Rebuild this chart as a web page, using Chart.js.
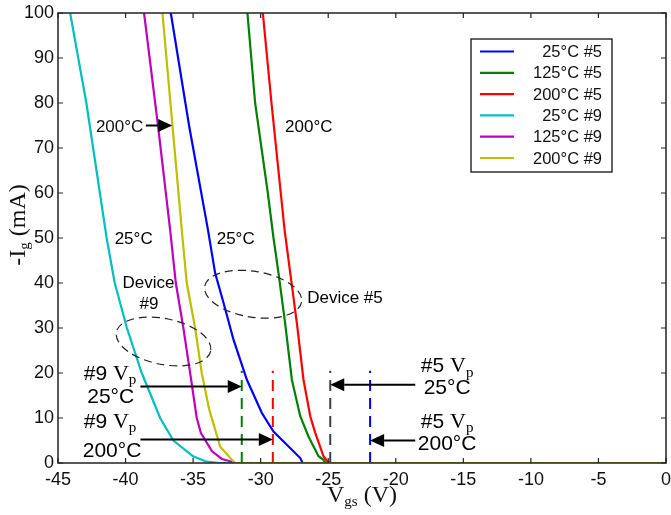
<!DOCTYPE html>
<html>
<head>
<meta charset="utf-8">
<script src="https://cdn.jsdelivr.net/npm/chart.js@4.4.1/dist/chart.umd.min.js"></script>
<style>
  html, body { margin: 0; padding: 0; background: #fff; }
  #wrap { width: 671px; height: 515px; }
</style>
</head>
<body>
<div id="wrap"><canvas id="chart" width="671" height="515"></canvas></div>
<script>
// series names as in the legend
const seriesLabels = ['25°C #5', '125°C #5', '200°C #5', '25°C #9', '125°C #9', '200°C #9'];
const seriesColors = ['#0000ff', '#008000', '#ff0000', '#00bfbf', '#bf00bf', '#bfbf00'];

// Vgs (V) / -Ig (mA)
const vgs25n5  = [-36.65, -35.3, -33.9, -33.37, -32.75, -32.01, -31.02, -29.91, -29.05, -27.07, -26.9, 0];
const ig25n5   = [100, 75, 51.8, 42.2, 35.6, 27.4, 18.5, 11.1, 7.0, 1.1, 0, 0];
const vgs125n5 = [-30.98, -30.41, -29.47, -29.05, -28.68, -28.19, -27.69, -27.07, -26.46, -25.72, -25.35, -25.2, 0];
const ig125n5  = [100, 80, 60, 50, 42.2, 31.1, 18.5, 10.4, 5.9, 1.5, 0.7, 0, 0];
const vgs200n5 = [-29.84, -29.2, -28.23, -27.81, -27.32, -26.83, -26.33, -25.96, -25.35, -25.1, -24.9, 0];
const ig200n5  = [100, 80, 51.8, 42.2, 31.1, 18.5, 10.4, 6.7, 1.5, 0.5, 0, 0];
const vgs25n9  = [-44.1, -42.9, -41.4, -40.8, -39.9, -38.8, -37.44, -36.46, -35.0, -34.0, -33.0, 0];
const ig25n9   = [100, 80, 50, 40, 30, 20, 10, 5, 1.5, 0.3, 0, 0];
const vgs125n9 = [-38.63, -37.6, -36.7, -36.28, -35.72, -35.22, -34.73, -34.43, -33.6, -32.87, -32.26, -32.0, 0];
const ig125n9  = [100, 75, 51.8, 40, 30, 20, 10, 6.7, 2.6, 0.9, 0.4, 0, 0];
const vgs200n9 = [-37.27, -35.84, -35.47, -34.85, -34.36, -33.8, -33.0, -32.13, -31.9, 0];
const ig200n9  = [100, 51.8, 40, 30, 20, 11.8, 3.7, 0.7, 0, 0];

const seriesV = [vgs25n5, vgs125n5, vgs200n5, vgs25n9, vgs125n9, vgs200n9];
const seriesI = [ig25n5, ig125n5, ig200n5, ig25n9, ig125n9, ig200n9];

// pinch-off voltage markers (#9 25°C, #9 200°C, #5 25°C, #5 200°C)
const vpVolts  = [-31.4, -29.1, -24.85, -21.9];
const vpColors = ['#008000', '#ff0000', '#404040', '#0000ff'];
const vpTop = 20.5;

// axis ticks
const xTicks = [-45, -40, -35, -30, -25, -20, -15, -10, -5, 0];
const yTicks = [0, 10, 20, 30, 40, 50, 60, 70, 80, 90, 100];

const SANS = '"Liberation Sans", Arial, sans-serif';
const SERIF = '"Liberation Serif", "Times New Roman", serif';

const datasets = seriesLabels.map((lbl, i) => ({
  label: lbl,
  data: seriesV[i].map((v, k) => ({ x: v, y: seriesI[i][k] })),
  borderColor: seriesColors[i],
  backgroundColor: seriesColors[i],
  borderWidth: 2.2,
  pointRadius: 0,
  showLine: true,
  tension: 0,
  order: 10 - i, // last one drawn on top
}));

vpVolts.forEach((v, i) => {
  datasets.push({
    label: 'vp' + i,
    data: [{ x: v, y: 0 }, { x: v, y: vpTop }],
    borderColor: vpColors[i],
    borderWidth: 2,
    borderDash: [11, 7],
    pointRadius: 0,
    showLine: true,
    order: 20,
  });
});

// text with optional subscript, pieces: [text, font, sub?]
function richText(ctx, pieces, x, y, align) {
  let w = 0;
  pieces.forEach(p => { ctx.font = p[1]; w += ctx.measureText(p[0]).width; });
  let cx = align === 'center' ? x - w / 2 : (align === 'right' ? x - w : x);
  ctx.textAlign = 'left';
  ctx.textBaseline = 'middle';
  pieces.forEach(p => {
    ctx.font = p[1];
    ctx.fillText(p[0], cx, p[2] ? y + 6 : y);
    cx += ctx.measureText(p[0]).width;
  });
}

function arrow(ctx, x1, y1, x2, y2) {
  const dir = Math.sign(x2 - x1);
  const head = 14;
  ctx.beginPath();
  ctx.moveTo(x1, y1);
  ctx.lineTo(x2 - dir * head, y2);
  ctx.lineWidth = 2;
  ctx.strokeStyle = '#000';
  ctx.stroke();
  ctx.beginPath();
  ctx.moveTo(x2, y2);
  ctx.lineTo(x2 - dir * head, y2 - 6.5);
  ctx.lineTo(x2 - dir * head, y2 + 6.5);
  ctx.closePath();
  ctx.fillStyle = '#000';
  ctx.fill();
}

const decorations = {
  id: 'decorations',
  afterDatasetsDraw(chart) {
    const ctx = chart.ctx;
    const xs = chart.scales.x, ys = chart.scales.y;
    const X = v => xs.getPixelForValue(v);
    const Y = v => ys.getPixelForValue(v);
    const a = chart.chartArea;
    ctx.save();

    // frame
    ctx.strokeStyle = '#222';
    ctx.lineWidth = 1.5;
    ctx.strokeRect(a.left, a.top, a.right - a.left, a.bottom - a.top);

    // inward ticks on all sides
    ctx.beginPath();
    xTicks.forEach(t => {
      const px = X(t);
      ctx.moveTo(px, a.bottom); ctx.lineTo(px, a.bottom - 5);
      ctx.moveTo(px, a.top); ctx.lineTo(px, a.top + 5);
    });
    yTicks.forEach(t => {
      const py = Y(t);
      ctx.moveTo(a.left, py); ctx.lineTo(a.left + 5, py);
      ctx.moveTo(a.right, py); ctx.lineTo(a.right - 5, py);
    });
    ctx.lineWidth = 1.2;
    ctx.stroke();

    // dashed ellipses
    ctx.setLineDash([8, 5]);
    ctx.lineWidth = 1.2;
    ctx.strokeStyle = '#222';
    [[-37.19, 27.0, 3.56, 5.1, 0.2], [-30.56, 37.5, 3.63, 5.1, 0.16]].forEach(e => {
      const cx = X(e[0]), cy = Y(e[1]);
      const rx = X(e[0] + e[2]) - cx, ry = cy - Y(e[1] + e[3]);
      ctx.beginPath();
      ctx.ellipse(cx, cy, rx, ry, e[4], 0, Math.PI * 2);
      ctx.stroke();
    });
    ctx.setLineDash([]);

    // small labels
    ctx.fillStyle = '#111';
    const f17 = '17px ' + SANS;
    richText(ctx, [['200°C', f17]], X(-40.44), Y(74.5), 'center');
    arrow(ctx, X(-38.5), Y(75), X(-36.55), Y(75));
    richText(ctx, [['200°C', f17]], X(-26.44), Y(74.5), 'center');
    richText(ctx, [['25°C', f17]], X(-39.4), Y(49.6), 'center');
    richText(ctx, [['25°C', f17]], X(-31.85), Y(49.6), 'center');
    richText(ctx, [['Device', f17]], X(-38.3), Y(40), 'center');
    richText(ctx, [['#9', f17]], X(-38.26), Y(35.2), 'center');
    richText(ctx, [['Device #5', f17]], X(-26.56), Y(36.5), 'left');

    // Vp annotations
    const f21 = '21px ' + SANS, s21 = '22px ' + SERIF, s14 = '15px ' + SERIF;
    richText(ctx, [['#9 ', f21], ['V', s21], ['p', s14, true]], X(-41.15), Y(19.8), 'center');
    richText(ctx, [['25°C', f21]], X(-41.1), Y(14.6), 'center');
    richText(ctx, [['#9 ', f21], ['V', s21], ['p', s14, true]], X(-41.15), Y(9.0), 'center');
    richText(ctx, [['200°C', f21]], X(-41.0), Y(2.6), 'center');
    arrow(ctx, X(-38.9), Y(17.0), X(vpVolts[0]), Y(17.0));
    arrow(ctx, X(-38.9), Y(5.2), X(vpVolts[1]), Y(5.2));

    richText(ctx, [['#5 ', f21], ['V', s21], ['p', s14, true]], X(-16.2), Y(21.4), 'center');
    richText(ctx, [['25°C', f21]], X(-16.2), Y(16.6), 'center');
    richText(ctx, [['#5 ', f21], ['V', s21], ['p', s14, true]], X(-16.2), Y(9.0), 'center');
    richText(ctx, [['200°C', f21]], X(-16.2), Y(4.1), 'center');
    arrow(ctx, X(-18.56), Y(17.4), X(vpVolts[2]), Y(17.4));
    arrow(ctx, X(-18.56), Y(5.0), X(vpVolts[3]), Y(5.0));

    // legend
    const lx = a.right - 195, ly = a.top + 26, lw = 141, lh = 133;
    ctx.fillStyle = '#fff';
    ctx.fillRect(lx, ly, lw, lh);
    ctx.strokeStyle = '#111';
    ctx.lineWidth = 1.3;
    ctx.strokeRect(lx, ly, lw, lh);
    seriesLabels.forEach((lbl, i) => {
      const ry = ly + 12.5 + i * 21.3;
      ctx.beginPath();
      ctx.moveTo(lx + 9, ry);
      ctx.lineTo(lx + 43, ry);
      ctx.strokeStyle = seriesColors[i];
      ctx.lineWidth = 2.2;
      ctx.stroke();
      ctx.fillStyle = '#111';
      richText(ctx, [[lbl, '16.5px ' + SANS]], lx + 131, ry + 1, 'right');
    });

    // axis titles
    ctx.fillStyle = '#111';
    richText(ctx, [['V', '24px ' + SERIF], ['gs', '15px ' + SERIF, true], [' (V)', '24px ' + SERIF]],
      (a.left + a.right) / 2, 496, 'center');
    ctx.translate(19, 225);
    ctx.rotate(-Math.PI / 2);
    richText(ctx, [['-I', '24px ' + SERIF], ['g', '15px ' + SERIF, true], [' (mA)', '24px ' + SERIF]],
      0, 0, 'center');
    ctx.restore();
  }
};

new Chart(document.getElementById('chart'), {
  type: 'scatter',
  data: { datasets },
  options: {
    responsive: false,
    animation: false,
    layout: { padding: { top: 13, right: 5, left: 0, bottom: 0 } },
    plugins: { legend: { display: false }, tooltip: { enabled: false } },
    scales: {
      x: {
        type: 'linear', min: -45, max: 0,
        afterBuildTicks: s => { s.ticks = xTicks.map(v => ({ value: v })); },
        afterFit: s => { s.height = 52; s.paddingLeft = 0; s.paddingRight = 0; },
        grid: { display: false, drawTicks: false },
        border: { display: false },
        ticks: { padding: 6, color: '#111', font: { family: SANS, size: 18 }, maxRotation: 0 },
      },
      y: {
        type: 'linear', min: 0, max: 100,
        afterBuildTicks: s => { s.ticks = yTicks.map(v => ({ value: v })); },
        afterFit: s => { s.width = 58; s.paddingTop = 0; s.paddingBottom = 0; },
        grid: { display: false, drawTicks: false },
        border: { display: false },
        ticks: { padding: 4, color: '#111', font: { family: SANS, size: 18 } },
      },
    },
  },
  plugins: [decorations],
});
</script>
</body>
</html>
